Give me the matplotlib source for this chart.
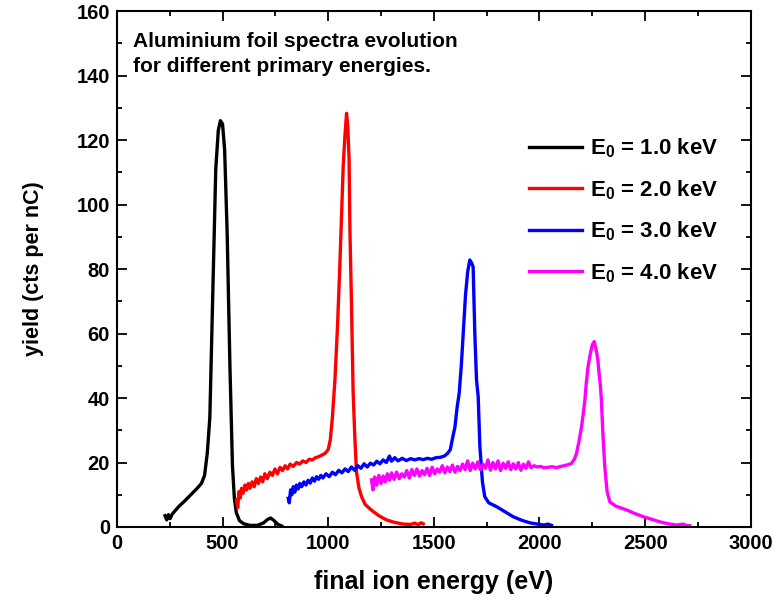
import numpy as np
import matplotlib
matplotlib.use("Agg")
import matplotlib.pyplot as plt
from matplotlib.ticker import MultipleLocator

plt.rcParams['font.family'] = ['Liberation Sans', 'DejaVu Sans']
plt.rcParams['font.weight'] = 'bold'
plt.rcParams['mathtext.fontset'] = 'custom'
plt.rcParams['mathtext.rm'] = 'Liberation Sans:bold'
plt.rcParams['mathtext.bf'] = 'Liberation Sans:bold'
plt.rcParams['mathtext.it'] = 'Liberation Sans:bold'

# E0 = 1.0 keV
black_x = [228, 236, 244, 252, 262, 275, 295, 320, 350, 380,
           400, 415, 428, 440, 453, 468, 480, 490, 500, 510,
           522, 535, 547, 556, 565, 580, 600, 630, 665, 695,
           712, 728, 745, 762, 780]
black_y = [3.5, 2.2, 3.8, 2.6, 4.0, 5.0, 6.5, 8.0, 10.0, 12.0,
           13.5, 16.0, 23.0, 34.0, 70.0, 111.0, 123.0, 126.0, 125.0, 117.0,
           91.0, 50.0, 19.0, 9.0, 4.5, 2.0, 1.0, 0.5, 0.5, 1.3,
           2.3, 2.8, 1.9, 0.8, 0.3]

# E0 = 2.0 keV
red_x = [566, 572, 578, 584, 590, 598, 606, 614, 622, 630,
         640, 650, 660, 670, 680, 690, 700, 712, 724, 736,
         748, 760, 772, 784, 796, 808, 820, 835, 850, 865,
         880, 895, 910, 925, 940, 955, 970, 985, 1000, 1010,
         1020, 1032, 1044, 1055, 1064, 1071, 1079, 1087, 1093, 1099,
         1103, 1110, 1118, 1126, 1134, 1146, 1158, 1175, 1195, 1213,
         1240, 1276, 1310, 1354, 1390, 1410, 1425, 1440, 1450]
red_y = [8.4, 6.0, 11.0, 9.0, 12.0, 10.5, 13.0, 11.5, 13.5, 12.0,
         14.0, 12.5, 15.0, 13.5, 15.5, 14.0, 16.5, 15.0, 17.0, 16.0,
         18.0, 16.5, 18.5, 17.5, 19.0, 18.0, 19.5, 18.8, 20.0, 19.5,
         20.5, 20.0, 21.0, 20.8, 21.5, 21.8, 22.3, 22.8, 24.0, 27.0,
         34.0, 45.6, 62.0, 80.7, 98.0, 111.7, 121.0, 128.3, 124.0, 114.0,
         92.0, 70.0, 42.0, 28.0, 17.0, 12.0, 9.4, 7.0, 5.8, 4.8,
         3.5, 2.2, 1.5, 0.9, 0.8, 1.2, 0.7, 1.3, 1.0]

# E0 = 3.0 keV
blue_x = [811, 816, 822, 828, 835, 842, 850, 858, 866, 875,
          885, 895, 905, 915, 925, 935, 945, 955, 965, 975,
          990, 1005, 1020, 1035, 1050, 1065, 1080, 1095, 1110, 1125,
          1140, 1155, 1170, 1185, 1200, 1215, 1230, 1245, 1260, 1275,
          1290, 1300, 1315, 1330, 1350, 1370, 1390, 1410, 1430, 1450,
          1470, 1490, 1510, 1530, 1550, 1565, 1578, 1590, 1600, 1610,
          1620, 1630, 1640, 1650, 1660, 1670, 1678, 1686, 1694, 1702,
          1710, 1718, 1730, 1741, 1760, 1797, 1835, 1875, 1915, 1954,
          1990, 2020, 2040, 2057]
blue_y = [8.9, 7.5, 11.5, 10.0, 12.5, 10.8, 13.0, 11.8, 13.5, 12.5,
          14.0, 13.0, 14.5, 13.6, 15.2, 14.2, 15.6, 14.8, 16.0, 15.2,
          16.5, 15.6, 17.0, 16.2, 17.6, 16.8, 18.0, 17.2, 18.6, 17.6,
          19.0, 18.2, 19.6, 18.6, 19.8, 19.2, 20.4, 19.6, 20.8, 20.0,
          22.0, 20.4, 21.5, 20.5, 21.3, 20.6, 21.2, 20.8, 21.2, 20.9,
          21.3, 21.0, 21.5, 21.6, 22.0, 22.8, 24.0, 28.0, 31.0, 37.0,
          41.5, 50.0, 61.0, 72.0, 79.0, 82.8, 82.0, 80.7, 60.0, 45.6,
          40.4, 24.9, 14.0, 9.4, 7.5, 6.3, 4.8, 3.2, 2.1, 1.3,
          0.9, 0.6, 0.9, 0.5]

# E0 = 4.0 keV
magenta_x = [1205, 1212, 1220, 1230, 1240, 1250, 1260, 1270, 1280, 1290,
             1300, 1312, 1324, 1336, 1348, 1360, 1372, 1384, 1396, 1408,
             1420, 1432, 1444, 1456, 1468, 1480, 1492, 1504, 1516, 1528,
             1540, 1552, 1564, 1576, 1588, 1600, 1612, 1624, 1636, 1648,
             1660, 1672, 1684, 1696, 1708, 1720, 1732, 1744, 1756, 1768,
             1780, 1792, 1804, 1816, 1828, 1840, 1852, 1864, 1876, 1888,
             1900, 1912, 1924, 1936, 1948, 1960, 1975, 1990, 2005, 2020,
             2040, 2060, 2080, 2096, 2115, 2135, 2151, 2165, 2175, 2187,
             2199, 2207, 2215, 2222, 2230, 2240, 2250, 2259, 2268, 2276,
             2282, 2288, 2293, 2300, 2309, 2320, 2333, 2360, 2390, 2412,
             2450, 2491, 2530, 2569, 2610, 2648, 2680, 2700, 2711]
magenta_y = [14.6, 11.5, 15.5, 13.0, 16.0, 13.5, 15.8, 14.0, 16.5, 14.5,
             16.8, 14.8, 17.0, 15.0, 16.5, 15.5, 17.5, 15.2, 17.8, 16.0,
             18.0, 15.8, 17.5, 16.2, 18.2, 16.0, 18.5, 16.5, 18.0, 17.0,
             19.0, 16.8, 18.6, 17.2, 19.2, 17.0, 18.8, 17.5, 19.5, 17.8,
             20.5, 17.5, 19.8, 18.0, 20.2, 17.8, 19.5, 18.2, 20.8, 17.6,
             20.0, 18.0, 20.5, 17.5, 19.8, 18.2, 20.2, 17.8, 19.6, 18.0,
             20.0, 17.6, 19.5, 18.2, 20.2, 18.4, 19.0, 18.6, 18.8, 18.4,
             18.5, 18.7, 18.4, 18.7, 19.0, 19.3, 19.7, 21.0, 22.8, 26.5,
             31.1, 35.0, 39.4, 45.0, 49.7, 53.5, 56.5, 57.5, 55.0, 52.0,
             47.7, 44.0, 39.4, 29.0, 18.7, 11.0, 7.8, 6.5, 5.8, 5.3,
             4.2, 3.2, 2.4, 1.6, 1.0, 0.6, 0.9, 0.4, 0.4]

series = [
    (black_x, black_y, 'black', 'E$_0$ = 1.0 keV'),
    (red_x, red_y, 'red', 'E$_0$ = 2.0 keV'),
    (blue_x, blue_y, 'blue', 'E$_0$ = 3.0 keV'),
    (magenta_x, magenta_y, 'magenta', 'E$_0$ = 4.0 keV'),
]

fig = plt.figure(figsize=(7.74, 6.02), dpi=100)
ax = fig.add_axes([0.151, 0.1246, 0.819, 0.857])

for xs, ys, c, lab in series:
    ax.plot(xs, ys, color=c, lw=2.4, label=lab, solid_joinstyle='round')

ax.set_xlim(0, 3000)
ax.set_ylim(0, 160)
ax.xaxis.set_major_locator(MultipleLocator(500))
ax.xaxis.set_minor_locator(MultipleLocator(250))
ax.yaxis.set_major_locator(MultipleLocator(20))
ax.yaxis.set_minor_locator(MultipleLocator(10))
ax.tick_params(which='both', direction='in', top=True, right=True, width=1.3)
ax.tick_params(which='major', length=7, labelsize=14.5, pad=5)
ax.tick_params(which='minor', length=3.5)
for sp in ax.spines.values():
    sp.set_linewidth(1.5)

ax.set_xlabel('final ion energy (eV)', fontsize=18, fontweight='bold', labelpad=12)
ax.set_ylabel('yield (cts per nC)', fontsize=15.5, fontweight='bold', labelpad=23)

ax.text(0.026, 0.96, 'Aluminium foil spectra evolution\nfor different primary energies.',
        transform=ax.transAxes, fontsize=15, fontweight='bold', va='top', ha='left',
        linespacing=1.45)

leg = ax.legend(loc='upper right', bbox_to_anchor=(0.98, 0.795), frameon=False,
                fontsize=16, handlelength=2.4, labelspacing=0.8, handletextpad=0.35)

fig.savefig('out.png', dpi=100)
